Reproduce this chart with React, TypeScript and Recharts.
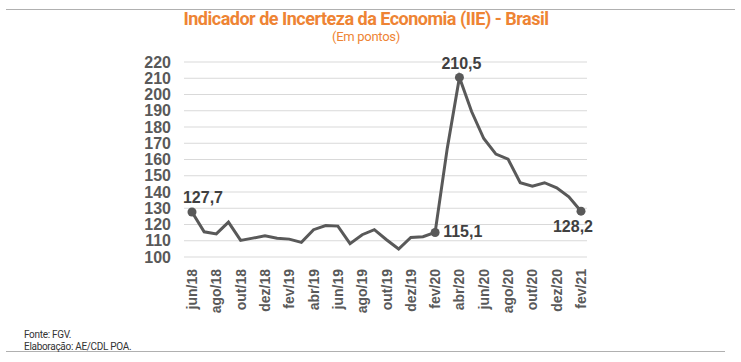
import { LineChart, Line, XAxis, YAxis, CartesianGrid, LabelList } from 'recharts';

const MONTHS = [
  'jun/18', 'jul/18', 'ago/18', 'set/18', 'out/18', 'nov/18', 'dez/18',
  'jan/19', 'fev/19', 'mar/19', 'abr/19', 'mai/19', 'jun/19', 'jul/19', 'ago/19', 'set/19',
  'out/19', 'nov/19', 'dez/19', 'jan/20', 'fev/20', 'mar/20', 'abr/20', 'mai/20',
  'jun/20', 'jul/20', 'ago/20', 'set/20', 'out/20', 'nov/20', 'dez/20', 'jan/21', 'fev/21',
];

const IIE_VALUES = [
  127.7, 115.5, 114.2, 121.5, 110.2, 111.6, 113.0,
  111.5, 111.0, 109.0, 116.8, 119.4, 119.0, 108.2, 113.7, 116.8,
  110.6, 104.9, 112.0, 112.5, 115.1, 167.0, 210.5, 189.5,
  172.9, 163.3, 160.2, 145.7, 143.6, 145.7, 142.6, 137.0, 128.2,
];

const Y_TICKS = [100, 110, 120, 130, 140, 150, 160, 170, 180, 190, 200, 210, 220];

// points that get a marker + value label
const HIGHLIGHT = [0, 20, 22, 32];

const LINE_COLOR = '#595959';
const ORANGE = '#EE8434';

const data = MONTHS.map((m, i) => ({ month: m, value: IIE_VALUES[i] }));

const fmt = (v: number) => v.toFixed(1).replace('.', ',');

function MarkerDot(props: any) {
  const { cx, cy, index } = props;
  if (!HIGHLIGHT.includes(index)) return <g key={`d${index}`} />;
  return <circle key={`d${index}`} cx={cx} cy={cy} r={4.5} fill={LINE_COLOR} stroke="none" />;
}

function ValueLabel(props: any) {
  const { x, y, index, value } = props;
  if (!HIGHLIGHT.includes(index)) return null;
  let tx = x;
  let ty = y;
  let anchor: 'start' | 'middle' | 'end' = 'middle';
  if (index === 0) {
    tx = x + 11;
    ty = y - 9;
  } else if (index === 20) {
    tx = x + 8;
    ty = y + 5;
    anchor = 'start';
  } else if (index === 22) {
    tx = x + 2;
    ty = y - 8;
  } else if (index === 32) {
    tx = x - 8;
    ty = y + 21;
  }
  return (
    <text
      x={tx}
      y={ty}
      textAnchor={anchor}
      fill="#404040"
      fontSize={16}
      fontWeight="bold"
      fontFamily="'Liberation Sans', Arial, sans-serif"
    >
      {fmt(value)}
    </text>
  );
}

function MonthTick(props: any) {
  const { x, y, payload } = props;
  return (
    <text
      transform={`translate(${x + 5},${y + 4}) rotate(-90)`}
      textAnchor="end"
      fill="#595959"
      fontSize={14}
      fontWeight="bold"
      fontFamily="'Liberation Sans', Arial, sans-serif"
    >
      {payload.value}
    </text>
  );
}

export default function App() {
  return (
    <div style={{ position: 'relative', width: 741, height: 362, background: '#fff', fontFamily: "'Liberation Sans', Arial, sans-serif" }}>
      <style>{`body{margin:0}`}</style>

      {/* top and bottom rules */}
      <div style={{ position: 'absolute', left: 6, top: 9, width: 729, height: 1, background: '#b0b0b0' }} />
      <div style={{ position: 'absolute', left: 6, top: 351, width: 719, height: 1, background: '#b0b0b0' }} />

      <div
        style={{
          position: 'absolute',
          left: 0,
          top: 9,
          width: 732,
          textAlign: 'center',
          color: ORANGE,
          fontFamily: "'Roboto', sans-serif",
          fontWeight: 'bold',
          fontSize: 18,
          letterSpacing: -0.5,
          lineHeight: '20px',
        }}
      >
        Indicador de Incerteza da Economia (IIE) - Brasil
      </div>
      <div
        style={{
          position: 'absolute',
          left: 0,
          top: 29,
          width: 732,
          textAlign: 'center',
          color: ORANGE,
          fontFamily: "'Roboto', sans-serif",
          fontSize: 13,
          letterSpacing: -0.3,
          lineHeight: '16px',
        }}
      >
        (Em pontos)
      </div>

      <div style={{ position: 'absolute', top: 0, left: 0 }}>
        <LineChart width={741} height={362} data={data} margin={{ top: 62, right: 154, bottom: 55, left: 144 }}>
          <CartesianGrid vertical={false} stroke="#d9d9d9" strokeWidth={1.2} />
          <XAxis
            dataKey="month"
            interval={1}
            axisLine={false}
            tickLine={false}
            height={50}
            padding={{ left: 8, right: 6 }}
            tick={<MonthTick />}
          />
          <YAxis
            domain={[100, 220]}
            ticks={Y_TICKS}
            interval={0}
            axisLine={false}
            tickLine={false}
            width={40}
            tickMargin={7}
            tick={{ fill: '#595959', fontSize: 16, fontWeight: 'bold' }}
          />
          <Line
            type="linear"
            dataKey="value"
            stroke={LINE_COLOR}
            strokeWidth={3}
            dot={<MarkerDot />}
            activeDot={false}
            isAnimationActive={false}
          >
            <LabelList dataKey="value" content={<ValueLabel />} />
          </Line>
        </LineChart>
      </div>

      <div
        style={{
          position: 'absolute',
          left: 24,
          top: 329,
          color: '#333',
          fontFamily: "'Roboto', sans-serif",
          fontSize: 10,
          letterSpacing: -0.3,
          lineHeight: '12px',
        }}
      >
        <div>Fonte: FGV.</div>
        <div>Elaboração: AE/CDL POA.</div>
      </div>
    </div>
  );
}
